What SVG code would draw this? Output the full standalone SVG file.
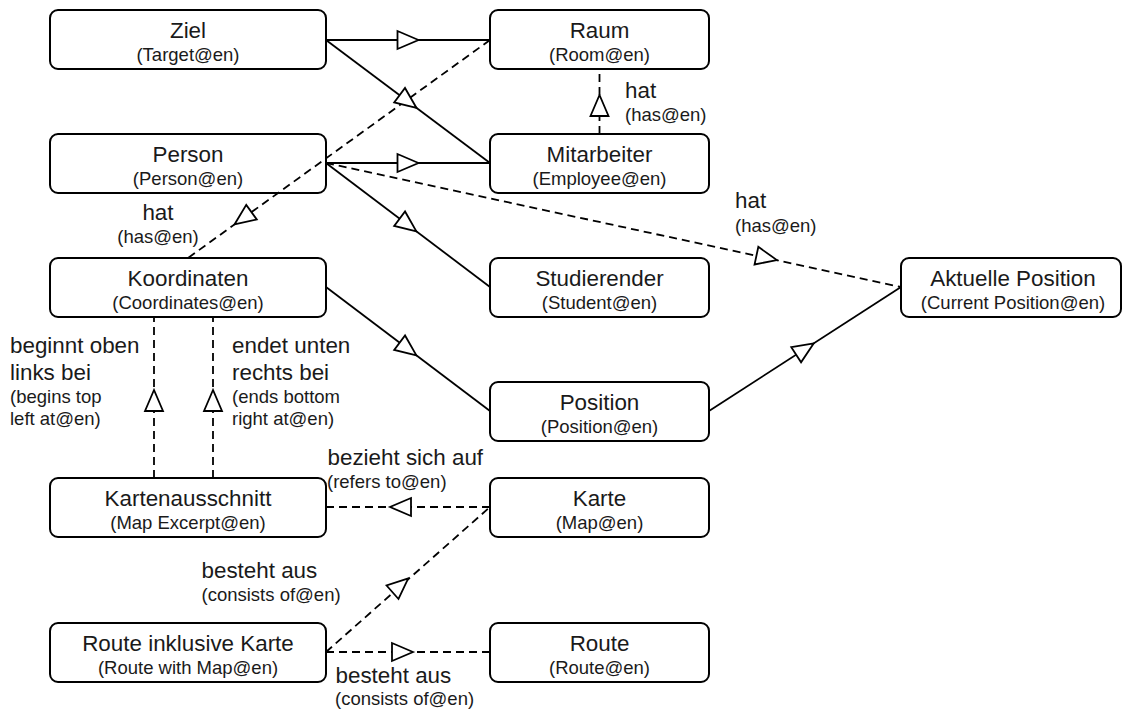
<svg xmlns="http://www.w3.org/2000/svg" width="1123" height="711" viewBox="0 0 1123 711">
<defs>
<style>
.box{fill:#fff;stroke:#000;stroke-width:2}
.t{font-family:"Liberation Sans",Arial,sans-serif;font-size:22.4px;fill:#1a1a1a}
.s{font-family:"Liberation Sans",Arial,sans-serif;font-size:18.5px;fill:#1a1a1a}
.c{text-anchor:middle}
.solid{fill:none;stroke:#000;stroke-width:1.8}
.dash{fill:none;stroke:#000;stroke-width:1.8;stroke-dasharray:8 5}
.arr{fill:#fff;stroke:#000;stroke-width:1.8;stroke-linejoin:miter}
</style>
<path id="tri" d="M10.5,0 L-10.5,-9 L-10.5,9 Z"/>
</defs>
<rect width="1123" height="711" fill="#fff"/>

<g id="nodes">
<g id="ziel"><rect class="box" x="50" y="10" width="276" height="59" rx="8"/><text class="t c" x="188" y="37.5">Ziel</text><text class="s c" x="188" y="60.5">(Target@en)</text></g>
<g id="raum"><rect class="box" x="490" y="10" width="219" height="59" rx="8"/><text class="t c" x="599.5" y="37.5">Raum</text><text class="s c" x="599.5" y="60.5">(Room@en)</text></g>
<g id="person"><rect class="box" x="50" y="134" width="276" height="59" rx="8"/><text class="t c" x="188" y="161.5">Person</text><text class="s c" x="188" y="184.5">(Person@en)</text></g>
<g id="mitarbeiter"><rect class="box" x="490" y="134" width="219" height="59" rx="8"/><text class="t c" x="599.5" y="161.5">Mitarbeiter</text><text class="s c" x="599.5" y="184.5">(Employee@en)</text></g>
<g id="koordinaten"><rect class="box" x="50" y="258" width="276" height="59" rx="8"/><text class="t c" x="188" y="285.5">Koordinaten</text><text class="s c" x="188" y="308.5">(Coordinates@en)</text></g>
<g id="studierender"><rect class="box" x="490" y="258" width="219" height="59" rx="8"/><text class="t c" x="599.5" y="285.5">Studierender</text><text class="s c" x="599.5" y="308.5">(Student@en)</text></g>
<g id="aktuelle-position"><rect class="box" x="901" y="258" width="220" height="59" rx="8"/><text class="t c" x="1013" y="285.5">Aktuelle Position</text><text class="s c" x="1013" y="308.5">(Current Position@en)</text></g>
<g id="position"><rect class="box" x="490" y="382" width="219" height="59" rx="8"/><text class="t c" x="599.5" y="409.5">Position</text><text class="s c" x="599.5" y="432.5">(Position@en)</text></g>
<g id="kartenausschnitt"><rect class="box" x="50" y="478" width="276" height="59" rx="8"/><text class="t c" x="188" y="505.5">Kartenausschnitt</text><text class="s c" x="188" y="528.5">(Map Excerpt@en)</text></g>
<g id="karte"><rect class="box" x="490" y="478" width="219" height="59" rx="8"/><text class="t c" x="599.5" y="505.5">Karte</text><text class="s c" x="599.5" y="528.5">(Map@en)</text></g>
<g id="route-inkl-karte"><rect class="box" x="50" y="623" width="276" height="59" rx="8"/><text class="t c" x="188" y="650.5">Route inklusive Karte</text><text class="s c" x="188" y="673.5">(Route with Map@en)</text></g>
<g id="route"><rect class="box" x="490" y="623" width="219" height="59" rx="8"/><text class="t c" x="599.5" y="650.5">Route</text><text class="s c" x="599.5" y="673.5">(Route@en)</text></g>
</g>

<g id="connectors">
<line class="solid" x1="326" y1="40" x2="490" y2="40"/>
<line class="solid" x1="326" y1="40" x2="490" y2="163"/>
<line class="solid" x1="326" y1="163" x2="490" y2="163"/>
<line class="solid" x1="326" y1="163" x2="490" y2="287"/>
<line class="solid" x1="326" y1="287" x2="490" y2="411"/>
<line class="solid" x1="709" y1="411" x2="901" y2="287"/>
<line class="dash" x1="599.5" y1="134" x2="599.5" y2="69"/>
<line class="dash" x1="490" y1="40" x2="188" y2="258"/>
<line class="dash" x1="326" y1="163" x2="901" y2="287"/>
<line class="dash" x1="154" y1="478" x2="154" y2="317"/>
<line class="dash" x1="213" y1="478" x2="213" y2="317"/>
<line class="dash" x1="490" y1="507" x2="326" y2="507"/>
<line class="dash" x1="326" y1="652" x2="490" y2="507"/>
<line class="dash" x1="326" y1="652" x2="490" y2="652"/>

<use href="#tri" class="arr" transform="translate(408,40)"/>
<use href="#tri" class="arr" transform="translate(408,101.5) rotate(36.87)"/>
<use href="#tri" class="arr" transform="translate(408,163)"/>
<use href="#tri" class="arr" transform="translate(408,225) rotate(37.09)"/>
<use href="#tri" class="arr" transform="translate(408,349) rotate(37.09)"/>
<use href="#tri" class="arr" transform="translate(805,349) rotate(-32.86)"/>
<use href="#tri" class="arr" transform="translate(599.5,105.5) rotate(-90)"/>
<use href="#tri" class="arr" transform="translate(243,218.3) rotate(144.18)"/>
<use href="#tri" class="arr" transform="translate(766.7,257.9) rotate(12.17)"/>
<use href="#tri" class="arr" transform="translate(154,400.5) rotate(-90)"/>
<use href="#tri" class="arr" transform="translate(213,400.5) rotate(-90)"/>
<use href="#tri" class="arr" transform="translate(400.5,507) rotate(180)"/>
<use href="#tri" class="arr" transform="translate(400.4,585.3) rotate(-41.48)"/>
<use href="#tri" class="arr" transform="translate(402.5,652)"/>

<g id="labels">
<text class="t" x="625" y="98.3">hat</text><text class="s" x="625" y="120.7">(has@en)</text>
<text class="t c" x="158" y="220">hat</text><text class="s c" x="158" y="243.3">(has@en)</text>
<text class="t" x="735" y="208.3">hat</text><text class="s" x="735" y="231.7">(has@en)</text>
<text class="t" x="10" y="353.3">beginnt oben</text><text class="t" x="10" y="380">links bei</text><text class="s" x="10" y="403.3">(begins top</text><text class="s" x="10" y="425">left at@en)</text>
<text class="t" x="232" y="353.3">endet unten</text><text class="t" x="232" y="380">rechts bei</text><text class="s" x="232" y="403.3">(ends bottom</text><text class="s" x="232" y="425">right at@en)</text>
<text class="t" x="327.5" y="465">bezieht sich auf</text><text class="s" x="327" y="488.3">(refers to@en)</text>
<text class="t" x="201.5" y="578.3">besteht aus</text><text class="s" x="201.5" y="600.7">(consists of@en)</text>
<text class="t" x="335.5" y="683.3">besteht aus</text><text class="s" x="335" y="705">(consists of@en)</text>
</g>
</g>
</svg>
